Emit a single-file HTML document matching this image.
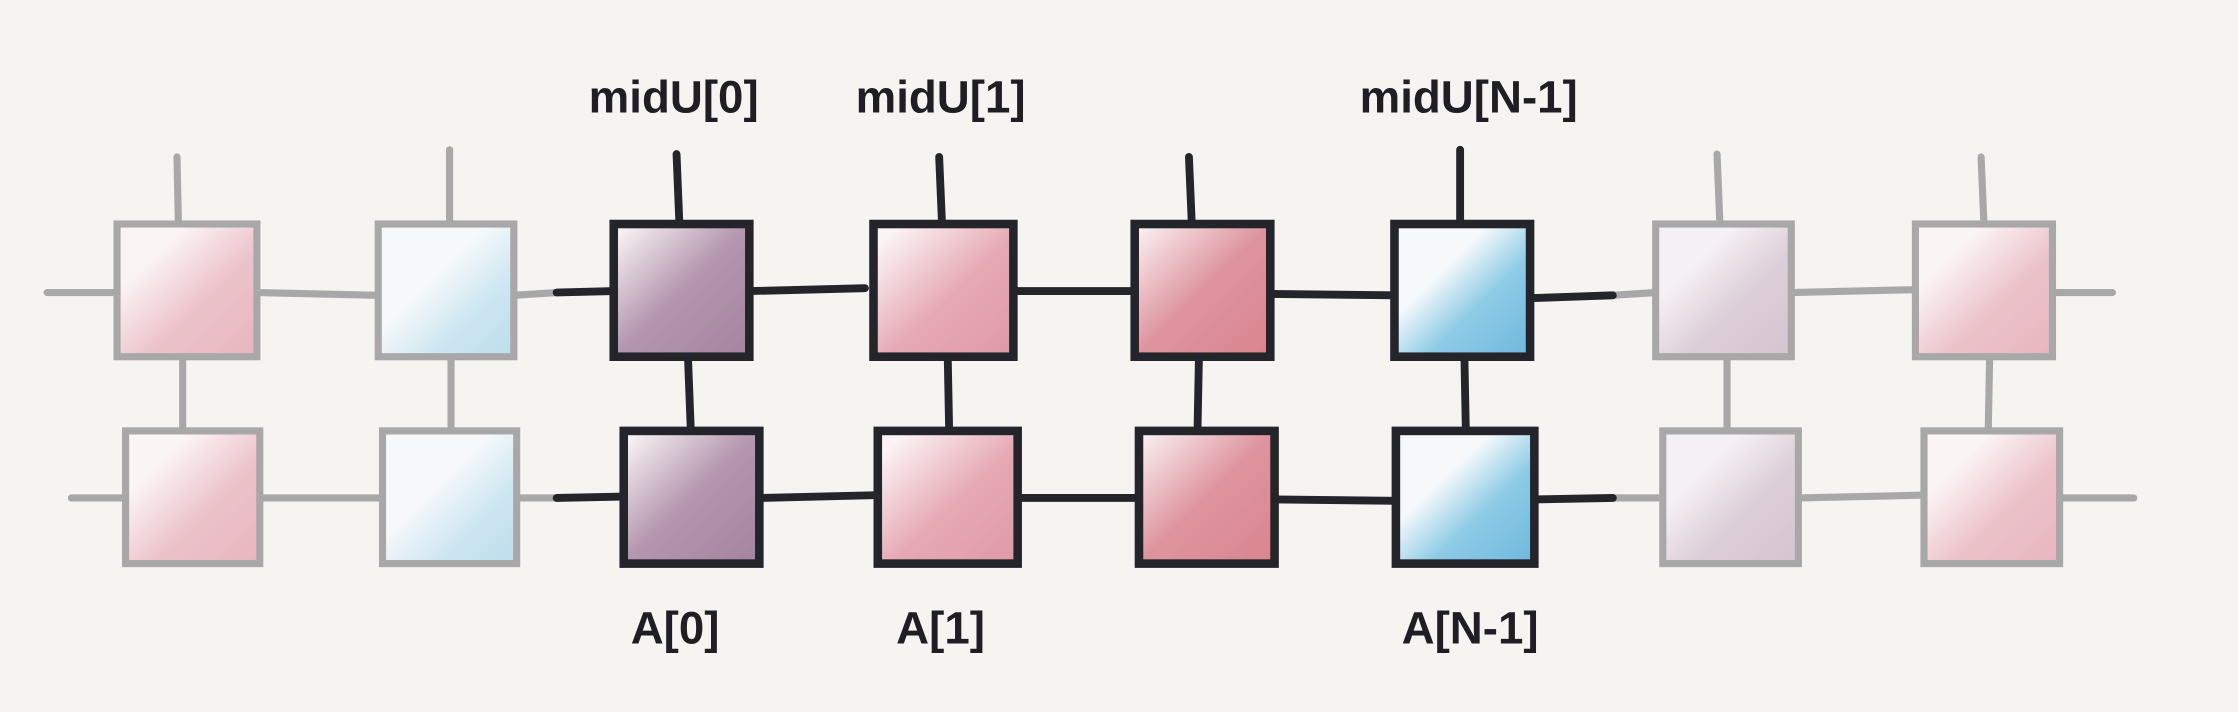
<!DOCTYPE html>
<html><head><meta charset="utf-8"><style>
html,body{margin:0;padding:0;background:#f5f4f1;}
svg{display:block;}
text{font-family:"Liberation Sans",sans-serif;font-weight:bold;font-size:32px;fill:#1e1e24;text-anchor:middle;}
</style></head><body>
<svg width="2238" height="712" viewBox="0 0 1568 499" preserveAspectRatio="none" xmlns="http://www.w3.org/2000/svg">
<defs>
<linearGradient id="gp" x1="0" y1="0" x2="1" y2="1"><stop offset="0.25" stop-color="#fbf4f5"/><stop offset="0.6" stop-color="#ecc3ca"/><stop offset="1" stop-color="#e8b5bf"/></linearGradient>
<linearGradient id="gb" x1="0" y1="0" x2="1" y2="1"><stop offset="0.4" stop-color="#f6f9fb"/><stop offset="0.7" stop-color="#cde6f1"/><stop offset="1" stop-color="#bcdeec"/></linearGradient>
<linearGradient id="gv" x1="0" y1="0" x2="1" y2="1"><stop offset="0.3" stop-color="#f5f0f3"/><stop offset="0.6" stop-color="#ddcfd9"/><stop offset="1" stop-color="#d5c4d1"/></linearGradient>
<linearGradient id="dP" x1="0" y1="0" x2="1" y2="1"><stop offset="0.05" stop-color="#f6f1f3"/><stop offset="0.5" stop-color="#b496ae"/><stop offset="1" stop-color="#a4839e"/></linearGradient>
<linearGradient id="dK" x1="0" y1="0" x2="1" y2="1"><stop offset="0.1" stop-color="#fbf3f4"/><stop offset="0.55" stop-color="#e6a9b4"/><stop offset="1" stop-color="#df99a6"/></linearGradient>
<linearGradient id="dR" x1="0" y1="0" x2="1" y2="1"><stop offset="0.05" stop-color="#f8ecee"/><stop offset="0.5" stop-color="#de949e"/><stop offset="1" stop-color="#d9858f"/></linearGradient>
<linearGradient id="dB" x1="0" y1="0" x2="1" y2="1"><stop offset="0.35" stop-color="#f6f9fb"/><stop offset="0.62" stop-color="#8ecbe6"/><stop offset="1" stop-color="#6fb8dd"/></linearGradient>
</defs>
<rect width="1568" height="499" fill="#f5f4f1"/>
<!-- gray lines -->
<g stroke="#a8a8a8" stroke-width="5" fill="none" stroke-linecap="round">
<line x1="33" y1="205" x2="82" y2="205"/><line x1="180" y1="205" x2="265" y2="207"/><line x1="360" y1="207" x2="390" y2="205"/>
<line x1="50" y1="349" x2="88" y2="349"/><line x1="182" y1="349" x2="268" y2="349"/><line x1="362" y1="349" x2="390" y2="349"/>
<line x1="1130" y1="207" x2="1160" y2="205"/><line x1="1255" y1="205" x2="1342" y2="203"/><line x1="1438" y1="205" x2="1480" y2="205"/>
<line x1="1130" y1="349" x2="1165" y2="349"/><line x1="1260" y1="349" x2="1348" y2="347"/><line x1="1443" y1="349" x2="1495" y2="349"/>
<line x1="124" y1="110" x2="125" y2="157"/><line x1="315" y1="105" x2="315" y2="157"/><line x1="1203" y1="108" x2="1205" y2="157"/><line x1="1388" y1="110" x2="1390" y2="157"/>
<line x1="128" y1="250" x2="128" y2="302"/><line x1="316" y1="250" x2="316" y2="302"/><line x1="1210" y1="250" x2="1210" y2="302"/><line x1="1394" y1="250" x2="1393" y2="302"/>
</g>
<g stroke="#a8a8a8" stroke-width="5">
<rect x="82" y="157" width="98" height="93" fill="url(#gp)"/>
<rect x="265" y="157" width="95" height="93" fill="url(#gb)"/>
<rect x="1160" y="157" width="95" height="93" fill="url(#gv)"/>
<rect x="1342" y="157" width="96" height="93" fill="url(#gp)"/>
<rect x="88" y="302" width="94" height="93" fill="url(#gp)"/>
<rect x="268" y="302" width="94" height="93" fill="url(#gb)"/>
<rect x="1165" y="302" width="95" height="93" fill="url(#gv)"/>
<rect x="1348" y="302" width="95" height="93" fill="url(#gp)"/>
</g>
<!-- dark lines -->
<g stroke="#24242b" stroke-width="5.5" fill="none" stroke-linecap="round">
<line x1="390" y1="205" x2="430" y2="204"/><line x1="525" y1="204" x2="606" y2="202"/><line x1="710" y1="204" x2="795" y2="204"/><line x1="890" y1="206" x2="977" y2="207"/><line x1="1072" y1="209" x2="1130" y2="207"/>
<line x1="390" y1="349" x2="437" y2="348"/><line x1="532" y1="349" x2="615" y2="347"/><line x1="713" y1="349" x2="798" y2="349"/><line x1="893" y1="350" x2="978" y2="351"/><line x1="1075" y1="350" x2="1130" y2="349"/>
<line x1="474" y1="108" x2="476" y2="157"/><line x1="658" y1="110" x2="660" y2="157"/><line x1="833" y1="110" x2="835" y2="157"/><line x1="1023" y1="105" x2="1023" y2="157"/>
<line x1="482" y1="250" x2="484" y2="302"/><line x1="664" y1="250" x2="665" y2="302"/><line x1="840" y1="250" x2="839" y2="302"/><line x1="1026" y1="250" x2="1027" y2="302"/>
</g>
<g stroke="#24242b" stroke-width="6">
<rect x="430" y="157" width="95" height="93" fill="url(#dP)"/>
<rect x="612" y="157" width="98" height="93" fill="url(#dK)"/>
<rect x="795" y="157" width="95" height="93" fill="url(#dR)"/>
<rect x="977" y="157" width="95" height="93" fill="url(#dB)"/>
<rect x="437" y="302" width="95" height="93" fill="url(#dP)"/>
<rect x="615" y="302" width="98" height="93" fill="url(#dK)"/>
<rect x="798" y="302" width="95" height="93" fill="url(#dR)"/>
<rect x="978" y="302" width="97" height="93" fill="url(#dB)"/>
</g>
<text x="472" y="79">midU[0]</text>
<text x="659" y="79">midU[1]</text>
<text x="1029" y="79">midU[N-1]</text>
<text x="473" y="451">A[0]</text>
<text x="659" y="451">A[1]</text>
<text x="1030" y="451">A[N-1]</text>
</svg>
</body></html>
